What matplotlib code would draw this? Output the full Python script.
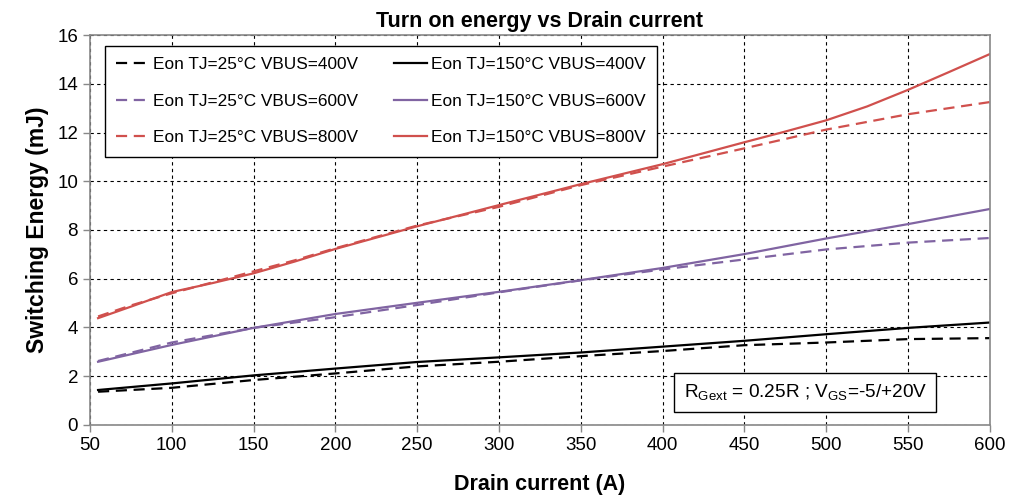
import matplotlib
matplotlib.use("Agg")
import matplotlib.pyplot as plt

plt.rcParams['font.family'] = ['Liberation Sans', 'DejaVu Sans']
plt.rcParams['mathtext.default'] = 'regular'

# Drain current (A)
i_25_400 = [55, 100, 150, 200, 250, 300, 350, 400, 450, 500, 550, 600]
e_25_400 = [1.36, 1.52, 1.84, 2.11, 2.40, 2.59, 2.82, 3.03, 3.27, 3.38, 3.52, 3.56]
i_150_400 = [55, 100, 150, 200, 250, 300, 350, 400, 450, 500, 550, 600]
e_150_400 = [1.43, 1.70, 2.03, 2.31, 2.58, 2.77, 2.97, 3.21, 3.45, 3.72, 3.98, 4.20]

i_25_600 = [55, 100, 150, 200, 250, 300, 350, 400, 450, 500, 550, 600]
e_25_600 = [2.62, 3.38, 3.98, 4.42, 4.92, 5.44, 5.93, 6.38, 6.79, 7.20, 7.48, 7.67]
i_150_600 = [55, 100, 150, 200, 250, 300, 350, 400, 450, 500, 550, 600]
e_150_600 = [2.59, 3.28, 3.98, 4.55, 5.01, 5.46, 5.94, 6.44, 7.01, 7.65, 8.24, 8.86]

i_25_800 = [55, 75, 100, 125, 150, 175, 200, 250, 300, 350, 400, 450, 500, 550, 600]
e_25_800 = [4.45, 4.90, 5.40, 5.85, 6.30, 6.75, 7.25, 8.18, 8.95, 9.84, 10.60, 11.35, 12.12, 12.75, 13.25]
i_150_800 = [55, 75, 100, 125, 150, 175, 200, 250, 300, 350, 400, 450, 475, 500, 525, 550, 575, 600]
e_150_800 = [4.38, 4.85, 5.45, 5.82, 6.22, 6.70, 7.22, 8.15, 9.02, 9.88, 10.70, 11.60, 12.04, 12.50, 13.07, 13.75, 14.48, 15.22]

black = '#000000'
purple = '#8064A2'
red = '#D0504D'

fig = plt.figure(figsize=(10.1, 5.01), dpi=100)
ax = fig.add_axes([0.089, 0.152, 0.891, 0.778])

dash = (5, 3)
ax.plot(i_25_400, e_25_400, color=black, lw=1.6, dashes=dash, label='Eon TJ=25°C VBUS=400V')
ax.plot(i_25_600, e_25_600, color=purple, lw=1.6, dashes=dash, label='Eon TJ=25°C VBUS=600V')
ax.plot(i_25_800, e_25_800, color=red, lw=1.6, dashes=dash, label='Eon TJ=25°C VBUS=800V')
ax.plot(i_150_400, e_150_400, color=black, lw=1.6, label='Eon TJ=150°C VBUS=400V')
ax.plot(i_150_600, e_150_600, color=purple, lw=1.6, label='Eon TJ=150°C VBUS=600V')
ax.plot(i_150_800, e_150_800, color=red, lw=1.6, label='Eon TJ=150°C VBUS=800V')

ax.set_xlim(50, 600)
ax.set_ylim(0, 16)
ax.set_xticks(range(50, 601, 50))
ax.set_yticks(range(0, 17, 2))
ax.grid(True, color='black', linestyle=(0, (3, 3)), linewidth=0.8)
ax.set_axisbelow(True)
for s in ax.spines.values():
    s.set_color('#888888')
    s.set_linewidth(1.2)
ax.tick_params(axis='both', labelsize=13.5, colors='#888888', labelcolor='black',
               direction='out', length=5, width=1)

ax.set_title('Turn on energy vs Drain current', fontsize=15.5, fontweight='bold', pad=6)
ax.set_xlabel('Drain current (A)', fontsize=15.5, fontweight='bold', labelpad=15)
ax.set_ylabel('Switching Energy (mJ)', fontsize=16.5, fontweight='bold', labelpad=6)

leg = ax.legend(ncol=2, loc='upper left', bbox_to_anchor=(0.0168, 0.972),
                borderaxespad=0, fontsize=12.4, handlelength=1.9, handletextpad=0.25,
                labelspacing=1.25, columnspacing=2.1, borderpad=0.65,
                fancybox=False, edgecolor='black', framealpha=1)
leg.get_frame().set_linewidth(1.0)

ax.text(0.795, 0.083, 'R$_{Gext}$ = 0.25R ; V$_{GS}$=-5/+20V', transform=ax.transAxes,
        ha='center', va='center', fontsize=13.7,
        bbox=dict(boxstyle='square,pad=0.5', facecolor='white', edgecolor='black', linewidth=1.0))

fig.savefig('out.png', dpi=100)
